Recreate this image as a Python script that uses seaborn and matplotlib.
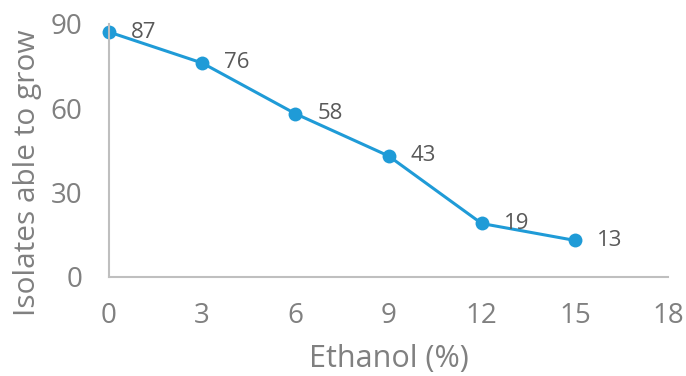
import matplotlib
matplotlib.use("Agg")
import matplotlib.pyplot as plt
import seaborn as sns
import pandas as pd

# Growth of isolates at increasing ethanol concentrations
ethanol = [0, 3, 6, 9, 12, 15]
isolates = [87, 76, 58, 43, 19, 13]
x_ticks = [0, 3, 6, 9, 12, 15, 18]
y_ticks = [0, 30, 60, 90]

sns.set_theme(style="white")
plt.rcParams["font.family"] = ["Open Sans", "DejaVu Sans"]

df = pd.DataFrame({"Ethanol": ethanol, "Isolates": isolates})

fig = plt.figure(figsize=(6.86, 3.76), dpi=100)
ax = fig.add_axes([0.1589, 0.2633, 0.8149, 0.674])

line_color = "#1f9bd7"
sns.lineplot(data=df, x="Ethanol", y="Isolates", ax=ax, color=line_color,
             linewidth=2.2, marker="o", markersize=10, markeredgewidth=0,
             clip_on=False)

for xv, yv in zip(ethanol, isolates):
    ax.annotate(str(yv), (xv, yv), xytext=(16, 0), textcoords="offset points",
                ha="left", va="center", fontsize=16, color="#595959")

ax.set_xlim(0, 18)
ax.set_ylim(0, 90)
ax.set_xticks(x_ticks)
ax.set_yticks(y_ticks)
ax.tick_params(axis="both", length=0, labelsize=20, labelcolor="#808080")
ax.tick_params(axis="x", pad=18)
ax.tick_params(axis="y", pad=19)

for side in ["top", "right"]:
    ax.spines[side].set_visible(False)
for side in ["left", "bottom"]:
    ax.spines[side].set_color("#bfbfbf")
    ax.spines[side].set_linewidth(1.5)

ax.set_xlabel("Ethanol (%)", fontsize=22, color="#808080", labelpad=10)
ax.set_ylabel("Isolates able to grow", fontsize=21.5, color="#808080")
ax.yaxis.set_label_coords(-0.12, 0.41)

fig.savefig("out.png", dpi=100)
